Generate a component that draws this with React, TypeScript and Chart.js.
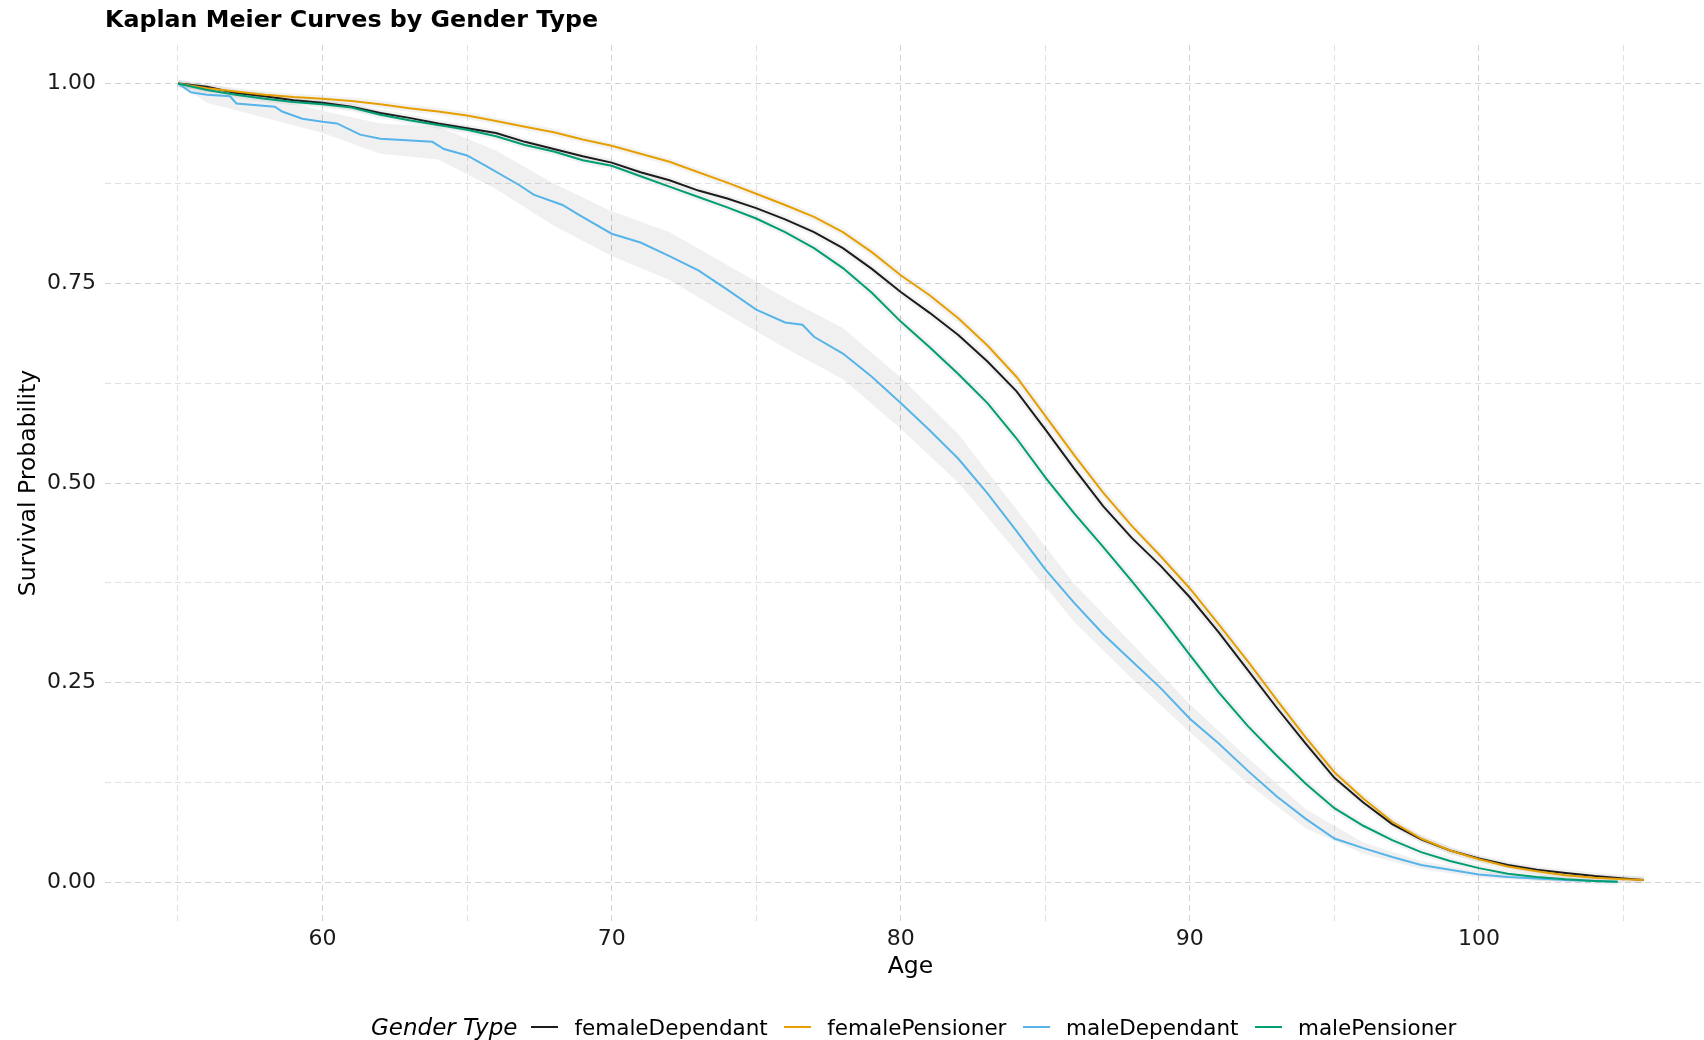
import React, { useEffect, useRef } from 'react';
import { Chart, registerables } from 'chart.js';

Chart.register(...registerables);

// ---------------- data ----------------
const SERIES_NAMES = ['femaleDependant', 'femalePensioner', 'maleDependant', 'malePensioner'];
const SERIES_COLORS = ['#1c1c1c', '#E69F00', '#56B4E9', '#009E73'];

const AGES_FEMALE = [
  55, 56, 57, 58, 59, 60, 61, 62, 63, 64, 65, 66, 67, 68, 69, 70, 71, 72, 73, 74,
  75, 76, 77, 78, 79, 80, 81, 82, 83, 84, 85, 86, 87, 88, 89, 90, 91, 92, 93, 94,
  95, 96, 97, 98, 99, 100, 101, 102, 103, 104, 105, 105.7,
];
const FEMALE_DEPENDANT = [
  1.0, 0.996, 0.988, 0.984, 0.979, 0.976, 0.971, 0.963, 0.957, 0.95, 0.944, 0.938, 0.927, 0.918, 0.909, 0.901, 0.889, 0.879, 0.866, 0.856,
  0.844, 0.83, 0.814, 0.794, 0.768, 0.739, 0.713, 0.685, 0.652, 0.615, 0.567, 0.518, 0.471, 0.431, 0.396, 0.357, 0.313, 0.266, 0.219, 0.174,
  0.131, 0.1, 0.073, 0.054, 0.04, 0.03, 0.022, 0.016, 0.012, 0.008, 0.005, 0.003,
];
const FEMALE_PENSIONER = [
  1.0, 0.994, 0.99, 0.986, 0.983, 0.981, 0.978, 0.974, 0.969, 0.965, 0.96, 0.953, 0.946, 0.939, 0.93, 0.922, 0.912, 0.902, 0.889, 0.876,
  0.862, 0.848, 0.833, 0.814, 0.789, 0.76, 0.735, 0.706, 0.672, 0.633, 0.584, 0.535, 0.488, 0.446, 0.408, 0.368, 0.323, 0.277, 0.229, 0.182,
  0.138, 0.105, 0.076, 0.055, 0.04, 0.029, 0.02, 0.014, 0.009, 0.006, 0.004, 0.003,
];

const AGES_MALE_PENSIONER = [
  55, 56, 57, 58, 59, 60, 61, 62, 63, 64, 65, 66, 67, 68, 69, 70, 71, 72, 73, 74,
  75, 76, 77, 78, 79, 80, 81, 82, 83, 84, 85, 86, 87, 88, 89, 90, 91, 92, 93, 94,
  95, 96, 97, 98, 99, 100, 101, 102, 103, 104, 104.8,
];
const MALE_PENSIONER = [
  1.0, 0.992, 0.986, 0.981, 0.977, 0.974, 0.97, 0.961, 0.954, 0.948, 0.942, 0.934, 0.923, 0.915, 0.904, 0.897, 0.884, 0.871, 0.858, 0.845,
  0.831, 0.814, 0.794, 0.769, 0.738, 0.702, 0.67, 0.636, 0.6, 0.556, 0.507, 0.462, 0.42, 0.377, 0.332, 0.285, 0.238, 0.196, 0.159, 0.124,
  0.093, 0.071, 0.053, 0.038, 0.027, 0.018, 0.011, 0.007, 0.004, 0.002, 0.001,
];

const AGES_MALE_DEPENDANT = [
  55, 55.2, 55.45, 56, 56.8, 57.02, 58.35, 58.6, 59.3, 60, 60.5, 61.3, 62, 63.8, 64.2, 65, 65.6, 66.8, 67.3, 68.3,
  68.9, 70, 71, 72, 73, 74, 75, 76, 76.6, 77, 78, 79, 80, 81, 82, 83, 84, 85, 86, 87,
  88, 89, 90, 91, 92, 93, 94, 95, 96, 97, 98, 99, 100, 101, 102, 103, 104, 104.8,
];
const MALE_DEPENDANT = [
  1.0, 0.995, 0.989, 0.986, 0.984, 0.975, 0.971, 0.965, 0.956, 0.952, 0.95, 0.936, 0.931, 0.927, 0.918, 0.91, 0.898, 0.873, 0.861, 0.848,
  0.835, 0.812, 0.801, 0.784, 0.766, 0.742, 0.717, 0.701, 0.698, 0.683, 0.662, 0.633, 0.6, 0.566, 0.53, 0.487, 0.44, 0.392, 0.35, 0.311,
  0.277, 0.243, 0.205, 0.174, 0.14, 0.108, 0.08, 0.055, 0.043, 0.032, 0.022, 0.016, 0.01, 0.007, 0.005, 0.003, 0.002, 0.001,
];

// confidence band of maleDependant
const BAND_AGES = [55, 56, 58, 60, 62, 64, 66, 68, 70, 72, 74, 76, 78, 80, 82, 84, 86, 88, 90, 92, 94, 96, 98, 100, 102, 104, 104.8];
const BAND_LOWER = [1.0, 0.976, 0.957, 0.938, 0.912, 0.905, 0.868, 0.822, 0.784, 0.754, 0.711, 0.669, 0.63, 0.568, 0.5, 0.414, 0.326, 0.255, 0.188, 0.124, 0.068, 0.036, 0.017, 0.006, 0.002, 0.0, 0.0];
const BAND_UPPER = [1.0, 0.995, 0.984, 0.966, 0.95, 0.946, 0.916, 0.875, 0.84, 0.814, 0.773, 0.732, 0.694, 0.632, 0.561, 0.467, 0.374, 0.299, 0.223, 0.156, 0.092, 0.05, 0.027, 0.014, 0.008, 0.004, 0.002];

const X_GRID = [55, 60, 65, 70, 75, 80, 85, 90, 95, 100, 105];
const X_LABELS = [60, 70, 80, 90, 100];
const Y_GRID = [0, 0.125, 0.25, 0.375, 0.5, 0.625, 0.75, 0.875, 1];
const Y_LABELS = [0, 0.25, 0.5, 0.75, 1];
const X_MIN = 52.475;
const X_MAX = 108.2;
const Y_MIN = -0.0482;
const Y_MAX = 1.0482;

const FONT = '"DejaVu Sans", sans-serif';

const pts = (xs: number[], ys: number[]) => xs.map((x, i) => ({ x, y: ys[i] }));

export default function App() {
  const ref = useRef<HTMLCanvasElement>(null);

  useEffect(() => {
    document.body.style.margin = '0';
    const lines = [
      { ages: AGES_FEMALE, vals: FEMALE_DEPENDANT, order: 3 },
      { ages: AGES_FEMALE, vals: FEMALE_PENSIONER, order: 2 },
      { ages: AGES_MALE_DEPENDANT, vals: MALE_DEPENDANT, order: 1 },
      { ages: AGES_MALE_PENSIONER, vals: MALE_PENSIONER, order: 0 },
    ];
    const datasets: any[] = [];
    lines.forEach((l, i) => {
      datasets.push({
        label: SERIES_NAMES[i],
        data: pts(l.ages, l.vals),
        borderColor: SERIES_COLORS[i],
        borderWidth: 2,
        pointRadius: 0,
        fill: false,
        order: l.order,
      });
    });
    // faint halos (narrow confidence ribbons)
    [0, 1, 3].forEach((i) => {
      const l = lines[i];
      datasets.push({
        label: SERIES_NAMES[i] + ' ci',
        data: pts(l.ages, l.vals),
        borderColor: 'rgba(0,0,0,0.05)',
        borderWidth: 7,
        pointRadius: 0,
        fill: false,
        order: 10,
      });
    });
    datasets.push({
      label: 'maleDependant upper',
      data: pts(BAND_AGES, BAND_UPPER),
      borderWidth: 0,
      borderColor: 'rgba(0,0,0,0)',
      pointRadius: 0,
      fill: false,
      order: 11,
    });
    datasets.push({
      label: 'maleDependant lower',
      data: pts(BAND_AGES, BAND_LOWER),
      borderWidth: 0,
      borderColor: 'rgba(0,0,0,0)',
      backgroundColor: 'rgba(0,0,0,0.06)',
      pointRadius: 0,
      fill: '-1',
      order: 12,
    });

    const chart = new Chart(ref.current!, {
      type: 'line',
      data: { datasets },
      options: {
        animation: false,
        responsive: false,
        devicePixelRatio: 1,
        layout: { padding: { top: 43, left: 0, right: 0, bottom: 0 } },
        plugins: { legend: { display: false }, tooltip: { enabled: false } },
        elements: { line: { tension: 0 }, point: { radius: 0 } },
        scales: {
          x: {
            type: 'linear',
            min: X_MIN,
            max: X_MAX,
            afterFit: (s: any) => { s.height = 121; },
            afterBuildTicks: (s: any) => { s.ticks = X_GRID.map((v) => ({ value: v })); },
            ticks: {
              autoSkip: false,
              maxRotation: 0,
              padding: 5,
              color: '#1a1a1a',
              font: { family: FONT, size: 22 },
              callback: (v: any) => (X_LABELS.includes(v) ? String(v) : ''),
            },
            grid: {
              drawTicks: false,
              lineWidth: 1,
              color: (ctx: any) => (ctx.tick && X_LABELS.includes(ctx.tick.value) ? '#d2d2d2' : '#e0e0e0'),
            },
            border: { display: false, dash: [6, 4] },
            title: { display: true, text: 'Age', color: '#000', font: { family: FONT, size: 23.5 }, padding: { top: 0, bottom: 61 } },
          },
          y: {
            type: 'linear',
            min: Y_MIN,
            max: Y_MAX,
            afterFit: (s: any) => { s.width = 105; },
            afterBuildTicks: (s: any) => { s.ticks = Y_GRID.map((v) => ({ value: v })); },
            ticks: {
              autoSkip: false,
              padding: 9,
              color: '#1a1a1a',
              font: { family: FONT, size: 22 },
              callback: (v: any) => (Y_LABELS.includes(v) ? Number(v).toFixed(2) : ''),
            },
            grid: {
              drawTicks: false,
              lineWidth: 1,
              color: (ctx: any) => (ctx.tick && Y_LABELS.includes(ctx.tick.value) ? '#d2d2d2' : '#e0e0e0'),
            },
            border: { display: false, dash: [6, 4] },
            title: { display: true, text: 'Survival Probability', color: '#000', font: { family: FONT, size: 23.5 }, padding: { top: 15, bottom: 0 } },
          },
        },
      } as any,
    });
    return () => chart.destroy();
  }, []);

  const keyStyle = (c: string): React.CSSProperties => ({
    display: 'inline-block', width: 27, height: 2, background: c, marginRight: 16,
  });

  return (
    <div style={{ position: 'relative', width: 1704, height: 1040, overflow: 'hidden', background: '#fff', fontFamily: FONT, color: '#000' }}>
      <canvas ref={ref} width={1716} height={1040} style={{ position: 'absolute', left: 0, top: 2, width: 1716, height: 1040 }} />
      <div style={{ position: 'absolute', left: 105, top: 5, fontSize: 23.75, fontWeight: 'bold', lineHeight: '28px', whiteSpace: 'nowrap' }}>
        Kaplan Meier Curves by Gender Type
      </div>
      <div style={{ position: 'absolute', left: 371, top: 1013, height: 28, display: 'flex', alignItems: 'center', whiteSpace: 'nowrap' }}>
        <span style={{ fontStyle: 'italic', fontSize: 23, marginRight: 14 }}>Gender Type</span>
        {SERIES_NAMES.map((n, i) => (
          <span key={n} style={{ display: 'flex', alignItems: 'center', marginRight: i < 3 ? 16.5 : 0 }}>
            <span style={keyStyle(SERIES_COLORS[i])} />
            <span style={{ fontSize: 21.5 }}>{n}</span>
          </span>
        ))}
      </div>
    </div>
  );
}
